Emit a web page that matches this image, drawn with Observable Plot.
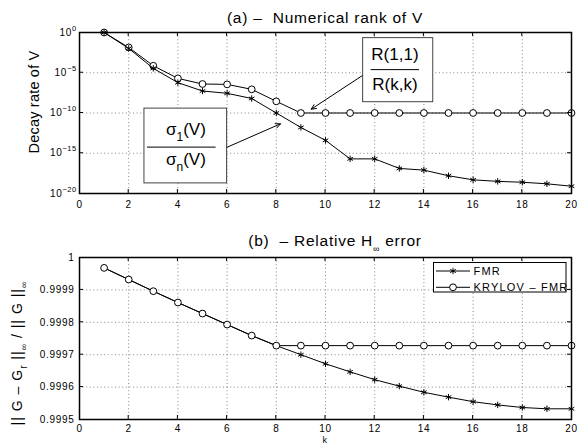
<!DOCTYPE html>
<html><head><meta charset="utf-8">
<script src="https://cdn.jsdelivr.net/npm/d3@7"></script>
<script src="https://cdn.jsdelivr.net/npm/@observablehq/plot@0.6"></script>
<style>
html,body{margin:0;padding:0;background:#fff;}
#chart{width:580px;height:444px;overflow:hidden;background:#fff;}
#chart svg{display:block;}
</style></head><body><div id="chart"></div>
<script>
// ---------------- data ----------------
const k = [1,2,3,4,5,6,7,8,9,10,11,12,13,14,15,16,17,18,19,20];
// (a) numerical rank of V : sigma_1/sigma_n (FMR) and R(1,1)/R(k,k) (KRYLOV - FMR)
const rankFMR = [1, 1.05e-2, 3.5e-5, 5.9e-7, 5.4e-8, 2.8e-8, 6.3e-9, 1.0e-10, 1.6e-12, 4.0e-14,
                 2.0e-16, 2.0e-16, 1.3e-17, 8.0e-18, 1.6e-18, 5.0e-19, 3.2e-19, 2.5e-19, 1.6e-19, 8.0e-20];
const rankKrylov = [1, 1.4e-2, 7.4e-5, 2.0e-6, 4.0e-7, 3.6e-7, 8.7e-8, 2.8e-9, 1.0e-10, 1.0e-10,
                    1.0e-10, 1.0e-10, 1.0e-10, 1.0e-10, 1.0e-10, 1.0e-10, 1.0e-10, 1.0e-10, 1.0e-10, 1.0e-10];
// (b) relative H-infinity error
const errFMR = [0.999968, 0.999932, 0.999896, 0.999861, 0.999827, 0.999793, 0.999759, 0.999728, 0.999700, 0.999672,
                0.999647, 0.999623, 0.999603, 0.999584, 0.999569, 0.999555, 0.999545, 0.999537, 0.999533, 0.999533];
const errKrylov = [0.999968, 0.999932, 0.999896, 0.999861, 0.999827, 0.999793, 0.999759, 0.999728, 0.999728, 0.999728,
                   0.999728, 0.999728, 0.999728, 0.999728, 0.999728, 0.999728, 0.999728, 0.999728, 0.999728, 0.999728];
const xTicks = [0,2,4,6,8,10,12,14,16,18,20];
const rankTicks = [1e-20, 1e-15, 1e-10, 1e-5, 1];
const errTicks = [0.9995, 0.9996, 0.9997, 0.9998, 0.9999, 1];
const seriesNames = ["FMR", "KRYLOV \u2013 FMR"];
const titleA = "(a) \u2013  Numerical rank of V";
const titleB = ["(b)  \u2013 Relative H", "\u221E", " error"];
const yLabelA = "Decay rate of V";
const xLabel = "k";
// annotation boxes / arrows in data units of panel (a)
const noteBoxes = [
  {x1: 2.64, x2: 6.0, y1: 3.5e-10, y2: 1.8e-19, num: ["\u03C3", "1", "(V)"], den: ["\u03C3", "n", "(V)"]},
  {x1: 11.53, x2: 14.38, y1: 0.2, y2: 2.2e-9, num: ["R(1,1)"], den: ["R(k,k)"]}
];
const noteArrows = [
  {x1: 6.0, y1: 5.6e-15, x2: 8.17, y2: 4.5e-12},
  {x1: 11.49, y1: 4.3e-6, x2: 9.42, y2: 2.95e-10}
];

// ---------------- build ----------------
const FONT = "'Liberation Sans', Arial, Helvetica, sans-serif";
const rankRows = k.map((v, i) => ({k: v, fmr: rankFMR[i], kry: rankKrylov[i]}));
const errRows = k.map((v, i) => ({k: v, fmr: errFMR[i], kry: errKrylov[i]}));
const grid = {stroke: "#666", strokeDasharray: "1,2.6", strokeWidth: 0.8};
const baseStyle = {fontFamily: FONT, fontSize: "10px", color: "#000", background: "#fff", overflow: "visible", letterSpacing: "0.7px"};

const plotA = Plot.plot({
  width: 580, height: 222, marginLeft: 79, marginRight: 9, marginTop: 32, marginBottom: 29,
  style: baseStyle,
  x: {domain: [0, 20]},
  y: {type: "log", domain: [1e-20, 1]},
  marks: [
    Plot.ruleX(xTicks.slice(1, -1), grid),
    Plot.ruleY(rankTicks.slice(1, -1), grid),
    Plot.rect(noteBoxes, {x1: "x1", x2: "x2", y1: "y1", y2: "y2", fill: "white", stroke: "#444", strokeWidth: 1}),
    Plot.arrow(noteArrows, {x1: "x1", y1: "y1", x2: "x2", y2: "y2", stroke: "black", strokeWidth: 1, headLength: 8, headAngle: 50}),
    Plot.line(rankRows, {x: "k", y: "kry", stroke: "black", strokeWidth: 1}),
    Plot.dot(rankRows, {x: "k", y: "kry", r: 3.4, fill: "white", stroke: "black", strokeWidth: 1}),
    Plot.line(rankRows, {x: "k", y: "fmr", stroke: "black", strokeWidth: 1}),
    Plot.dot(rankRows, {x: "k", y: "fmr", symbol: "asterisk", r: 3, stroke: "black", strokeWidth: 1}),
    Plot.frame({stroke: "black", strokeWidth: 1.5}),
    Plot.axisX({ticks: xTicks, tickSize: 0, tickPadding: 7, label: null}),
    Plot.axisY({ticks: rankTicks, tickSize: 0, tickPadding: 3, label: null,
                tickFormat: d => String(Math.round(Math.log10(d)))})
  ]
});

const plotB = Plot.plot({
  width: 580, height: 222, marginLeft: 79, marginRight: 9, marginTop: 35, marginBottom: 25,
  style: {...baseStyle, overflow: "hidden"},
  x: {domain: [0, 20]},
  y: {domain: [0.9995, 1]},
  marks: [
    Plot.ruleX(xTicks.slice(1, -1), grid),
    Plot.ruleY(errTicks.slice(1, -1), grid),
    Plot.line(errRows, {x: "k", y: "fmr", stroke: "black", strokeWidth: 1}),
    Plot.dot(errRows, {x: "k", y: "fmr", symbol: "asterisk", r: 3, stroke: "black", strokeWidth: 1}),
    Plot.line(errRows, {x: "k", y: "kry", stroke: "black", strokeWidth: 1}),
    Plot.dot(errRows, {x: "k", y: "kry", r: 3.4, fill: "white", stroke: "black", strokeWidth: 1}),
    Plot.frame({stroke: "black", strokeWidth: 1.5}),
    Plot.axisX({ticks: xTicks, tickSize: 0, tickPadding: 5, label: null}),
    Plot.axisY({ticks: errTicks, tickSize: 0, tickPadding: 5, label: null,
                tickFormat: d => d === 1 ? "1" : d.toFixed(4)})
  ]
});

document.getElementById("chart").append(plotA, plotB);

// ---------- decorations ----------
function inwardTicks(svg, xt, yt) {
  const sx = svg.scale("x").apply, sy = svg.scale("y").apply;
  const [L, R] = svg.scale("x").range, [B, T] = svg.scale("y").range;
  const g = d3.select(svg).append("g").attr("stroke", "black").attr("stroke-width", 1);
  xt.slice(1, -1).forEach(v => {
    const x = sx(v);
    g.append("line").attr("x1", x).attr("x2", x).attr("y1", B).attr("y2", B - 4);
    g.append("line").attr("x1", x).attr("x2", x).attr("y1", T).attr("y2", T + 4);
  });
  yt.slice(1, -1).forEach(v => {
    const y = sy(v);
    g.append("line").attr("x1", L).attr("x2", L + 4).attr("y1", y).attr("y2", y);
    g.append("line").attr("x1", R).attr("x2", R - 4).attr("y1", y).attr("y2", y);
  });
}
inwardTicks(plotA, xTicks, rankTicks);
inwardTicks(plotB, xTicks, errTicks);

// superscript exponents on the log axis
d3.select(plotA).selectAll('g[aria-label="y-axis tick label"] text').each(function () {
  const t = d3.select(this);
  const e = t.text();
  t.text("10");
  t.append("tspan").attr("dy", "-5").attr("font-size", "7.5px").attr("letter-spacing", "0.4px")
    .text(e.replace("-", "\u2212"));
});

const st = d3.select(plotA), sb = d3.select(plotB);
// titles
st.append("text").attr("x", 325).attr("y", 22.7).attr("text-anchor", "middle")
  .attr("font-size", "15.5px").attr("letter-spacing", "0.75px").attr("fill", "black").text(titleA);
const tb = sb.append("text").attr("x", 335).attr("y", 24).attr("text-anchor", "middle")
  .attr("font-size", "15.5px").attr("letter-spacing", "0.75px").attr("fill", "black");
tb.append("tspan").text(titleB[0]);
tb.append("tspan").attr("dy", 6).attr("font-size", "9px").text(titleB[1]);
tb.append("tspan").attr("dy", -6).text(titleB[2]);

// y labels
st.append("text").attr("transform", "translate(38.5,102) rotate(-90)").attr("text-anchor", "middle")
  .attr("font-size", "14.5px").attr("letter-spacing", "0.2px").attr("fill", "black").text(yLabelA);
const yl = sb.append("text").attr("transform", "translate(22,131) rotate(-90)").attr("text-anchor", "middle")
  .attr("font-size", "14px").attr("letter-spacing", "1px").attr("fill", "black");
yl.append("tspan").text("|| G \u2013 G");
yl.append("tspan").attr("dy", 5).attr("font-size", "10px").text("r");
yl.append("tspan").attr("dy", -5).text(" ||");
yl.append("tspan").attr("dy", 5).attr("font-size", "9px").text("\u221E");
yl.append("tspan").attr("dy", -5).text(" / || G ||");
yl.append("tspan").attr("dy", 5).attr("font-size", "9px").text("\u221E");

// x label
sb.append("text").attr("x", 325).attr("y", 221).attr("text-anchor", "middle")
  .attr("font-size", "9px").attr("fill", "black").text(xLabel);

// annotation fractions
{
  const sx = plotA.scale("x").apply, sy = plotA.scale("y").apply;
  const lay = [
    {num: 27, line: 39, den: 57, cx: 42, l: 3, r: 11, fs: 17},
    {num: 22, line: 32, den: 52.7, cx: 32.3, l: 8, r: 13.7, fs: 17}
  ];
  noteBoxes.forEach((b, i) => {
    const L = sx(b.x1), R = sx(b.x2), T = sy(b.y1), o = lay[i];
    const g = st.append("g").attr("fill", "black").attr("font-size", o.fs + "px").attr("letter-spacing", "0");
    const put = (parts, y) => {
      const t = g.append("text").attr("x", L + o.cx).attr("y", y).attr("text-anchor", "middle");
      if (parts.length === 1) t.text(parts[0]);
      else {
        t.append("tspan").text(parts[0]);
        t.append("tspan").attr("dy", 6).attr("font-size", "12px").text(parts[1]);
        t.append("tspan").attr("dy", -6).text(parts[2]);
      }
    };
    put(b.num, T + o.num);
    g.append("line").attr("x1", L + o.l).attr("x2", R - o.r).attr("y1", T + o.line).attr("y2", T + o.line)
      .attr("stroke", "black").attr("stroke-width", 1);
    put(b.den, T + o.den);
  });
}

// legend (panel b)
{
  const g = sb.append("g");
  g.append("rect").attr("x", 433.5).attr("y", 40.5).attr("width", 132.5).attr("height", 29.5)
    .attr("fill", "white").attr("stroke", "black").attr("stroke-width", 1);
  const ys = [49, 65.3];
  ys.forEach((y, i) => {
    g.append("line").attr("x1", 436).attr("x2", 470).attr("y1", y).attr("y2", y).attr("stroke", "black");
    const sym = d3.symbol(i === 0 ? d3.symbolAsterisk : d3.symbolCircle, i === 0 ? Math.PI * 9 : Math.PI * 3.4 * 3.4);
    g.append("path").attr("d", sym()).attr("transform", `translate(453,${y})`)
      .attr("fill", i === 0 ? "none" : "white").attr("stroke", "black").attr("stroke-width", 1);
    g.append("text").attr("x", 473.5).attr("y", y + 4).attr("text-anchor", "start")
      .attr("font-size", "11px").attr("letter-spacing", "1.2px")
      .attr("fill", "black").text(seriesNames[i]);
  });
}
</script></body></html>
